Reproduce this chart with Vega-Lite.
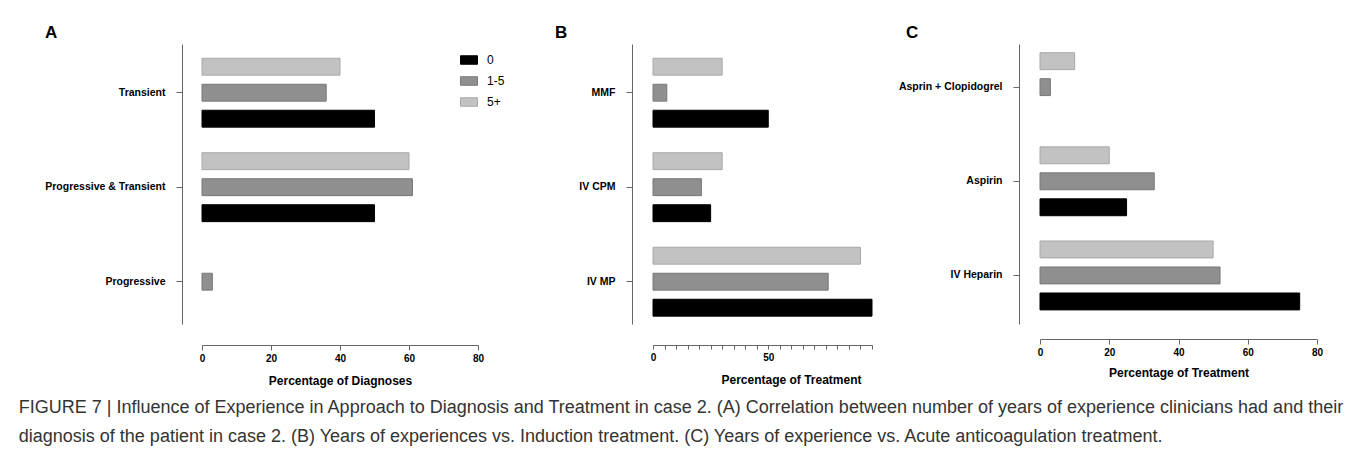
{
  "$schema": "https://vega.github.io/schema/vega-lite/v6.json",
  "background": "white",
  "padding": {"left": 18, "top": 24, "right": 0, "bottom": 0},
  "title": {
    "text": [
      "FIGURE 7 | Influence of Experience in Approach to Diagnosis and Treatment in case 2. (A) Correlation between number of years of experience clinicians had and their",
      "diagnosis of the patient in case 2. (B) Years of experiences vs. Induction treatment. (C) Years of experience vs. Acute anticoagulation treatment."
    ],
    "orient": "bottom",
    "anchor": "start",
    "frame": "bounds",
    "dx": -26,
    "offset": 13,
    "fontSize": 18,
    "fontWeight": "normal",
    "color": "#333333",
    "lineHeight": 29
  },
  "datasets": {
    "diag": [
      {"category": "Transient", "exp": "5+", "pct": 40},
      {"category": "Transient", "exp": "1-5", "pct": 36},
      {"category": "Transient", "exp": "0", "pct": 50},
      {"category": "Progressive & Transient", "exp": "5+", "pct": 60},
      {"category": "Progressive & Transient", "exp": "1-5", "pct": 61},
      {"category": "Progressive & Transient", "exp": "0", "pct": 50},
      {"category": "Progressive", "exp": "1-5", "pct": 3}
    ],
    "induction": [
      {"category": "MMF", "exp": "5+", "pct": 30},
      {"category": "MMF", "exp": "1-5", "pct": 6},
      {"category": "MMF", "exp": "0", "pct": 50},
      {"category": "IV CPM", "exp": "5+", "pct": 30},
      {"category": "IV CPM", "exp": "1-5", "pct": 21},
      {"category": "IV CPM", "exp": "0", "pct": 25},
      {"category": "IV MP", "exp": "5+", "pct": 90},
      {"category": "IV MP", "exp": "1-5", "pct": 76},
      {"category": "IV MP", "exp": "0", "pct": 95}
    ],
    "anticoag": [
      {"category": "Asprin + Clopidogrel", "exp": "5+", "pct": 10},
      {"category": "Asprin + Clopidogrel", "exp": "1-5", "pct": 3},
      {"category": "Aspirin", "exp": "5+", "pct": 20},
      {"category": "Aspirin", "exp": "1-5", "pct": 33},
      {"category": "Aspirin", "exp": "0", "pct": 25},
      {"category": "IV Heparin", "exp": "5+", "pct": 50},
      {"category": "IV Heparin", "exp": "1-5", "pct": 52},
      {"category": "IV Heparin", "exp": "0", "pct": 75}
    ]
  },
  "resolve": {"legend": {"color": "independent", "stroke": "independent"}},
  "spacing": 50,
  "hconcat": [
    {
      "width": 276,
      "height": 280,
      "title": {"text": "A", "anchor": "start", "frame": "group", "dx": -157, "fontSize": 17, "fontWeight": "bold", "offset": 2, "color": "#000000"},
      "data": {"name": "diag"},
      "mark": {"type": "bar", "strokeWidth": 1},
      "encoding": {
        "y": {"field": "category", "type": "nominal", "sort": ["Transient", "Progressive & Transient", "Progressive"], "scale": {"paddingInner": 0.175, "paddingOuter": 0.069, "align": 0.745}, "axis": {"title": null, "offset": 20}},
        "yOffset": {"field": "exp", "type": "nominal", "sort": ["5+", "1-5", "0"], "scale": {"paddingInner": 0.35, "paddingOuter": 0.175}},
        "x": {"field": "pct", "type": "quantitative", "scale": {"domain": [0, 80], "nice": false}, "axis": {"title": "Percentage of Diagnoses", "values": [0, 20, 40, 60, 80], "offset": 21}},
        "color": {"field": "exp", "type": "nominal", "sort": ["0", "1-5", "5+"], "scale": {"domain": ["0", "1-5", "5+"], "range": ["#000000", "#8f8f8f", "#c2c2c2"]},
          "legend": {"orient": "none", "legendX": 258, "legendY": 7, "title": null, "symbolType": "M-1,-0.5H1V0.5H-1Z", "symbolSize": 289, "labelFontSize": 12, "labelFontWeight": "normal", "rowPadding": 5, "labelOffset": 9, "symbolStrokeColor": "#777777", "symbolStrokeWidth": 1, "symbolOpacity": 1, "labelColor": "#000000"}},
        "stroke": {"field": "exp", "type": "nominal", "scale": {"domain": ["0", "1-5", "5+"], "range": ["#000000", "#787878", "#a8a8a8"]}, "legend": null}
      }
    },
    {
      "spacing": 25,
      "resolve": {"legend": {"color": "independent", "stroke": "independent"}},
      "hconcat": [
        {
          "width": 219,
          "height": 280,
          "title": {"text": "B", "anchor": "start", "frame": "group", "dx": -98, "fontSize": 17, "fontWeight": "bold", "offset": 2, "color": "#000000"},
          "data": {"name": "induction"},
          "mark": {"type": "bar", "strokeWidth": 1},
          "encoding": {
            "y": {"field": "category", "type": "nominal", "sort": ["MMF", "IV CPM", "IV MP"], "scale": {"paddingInner": 0.175, "paddingOuter": 0.069, "align": 0.745}, "axis": {"title": null, "offset": 21}},
            "yOffset": {"field": "exp", "type": "nominal", "sort": ["5+", "1-5", "0"], "scale": {"paddingInner": 0.35, "paddingOuter": 0.175}},
            "x": {"field": "pct", "type": "quantitative", "scale": {"domain": [0, 95], "nice": false}, "axis": {"title": "Percentage of Treatment", "values": [0, 5, 10, 15, 20, 25, 30, 35, 40, 45, 50, 55, 60, 65, 70, 75, 80, 85, 90, 95], "labelExpr": "datum.value % 50 === 0 ? datum.label : ''", "tickSize": 4, "offset": 21, "titleX": 138, "titleAlign": "center"}},
            "color": {"field": "exp", "type": "nominal", "scale": {"domain": ["0", "1-5", "5+"], "range": ["#000000", "#8f8f8f", "#c2c2c2"]}, "legend": null},
            "stroke": {"field": "exp", "type": "nominal", "scale": {"domain": ["0", "1-5", "5+"], "range": ["#000000", "#787878", "#a8a8a8"]}, "legend": null}
          }
        },
        {
          "width": 277,
          "height": 280,
          "title": {"text": "C", "anchor": "start", "frame": "group", "dx": -134, "fontSize": 17, "fontWeight": "bold", "offset": 2, "color": "#000000"},
          "data": {"name": "anticoag"},
          "mark": {"type": "bar", "strokeWidth": 1},
          "encoding": {
            "y": {"field": "category", "type": "nominal", "sort": ["Asprin + Clopidogrel", "Aspirin", "IV Heparin"], "scale": {"paddingInner": 0.175, "paddingOuter": 0.0745, "align": 0.297}, "axis": {"title": null, "offset": 21}},
            "yOffset": {"field": "exp", "type": "nominal", "sort": ["5+", "1-5", "0"], "scale": {"paddingInner": 0.35, "paddingOuter": 0.175}},
            "x": {"field": "pct", "type": "quantitative", "scale": {"domain": [0, 80], "nice": false}, "axis": {"title": "Percentage of Treatment", "titlePadding": 10, "values": [0, 20, 40, 60, 80], "offset": 15}},
            "color": {"field": "exp", "type": "nominal", "scale": {"domain": ["0", "1-5", "5+"], "range": ["#000000", "#8f8f8f", "#c2c2c2"]}, "legend": null},
            "stroke": {"field": "exp", "type": "nominal", "scale": {"domain": ["0", "1-5", "5+"], "range": ["#000000", "#787878", "#a8a8a8"]}, "legend": null}
          }
        }
      ]
    }
  ],
  "config": {
    "font": "Liberation Sans",
    "view": {"stroke": null},
    "axis": {
      "grid": false,
      "domainColor": "#666666",
      "tickColor": "#666666",
      "labelColor": "#000000",
      "labelFontWeight": "bold",
      "labelFontSize": 10.5,
      "titleFontSize": 12,
      "titleFontWeight": "bold",
      "titleColor": "#000000"
    },
    "axisY": {"tickSize": 6, "labelPadding": 11},
    "axisX": {"tickSize": 5, "labelPadding": 3, "titlePadding": 12, "labelFontSize": 10, "labelFlush": false}
  }
}
